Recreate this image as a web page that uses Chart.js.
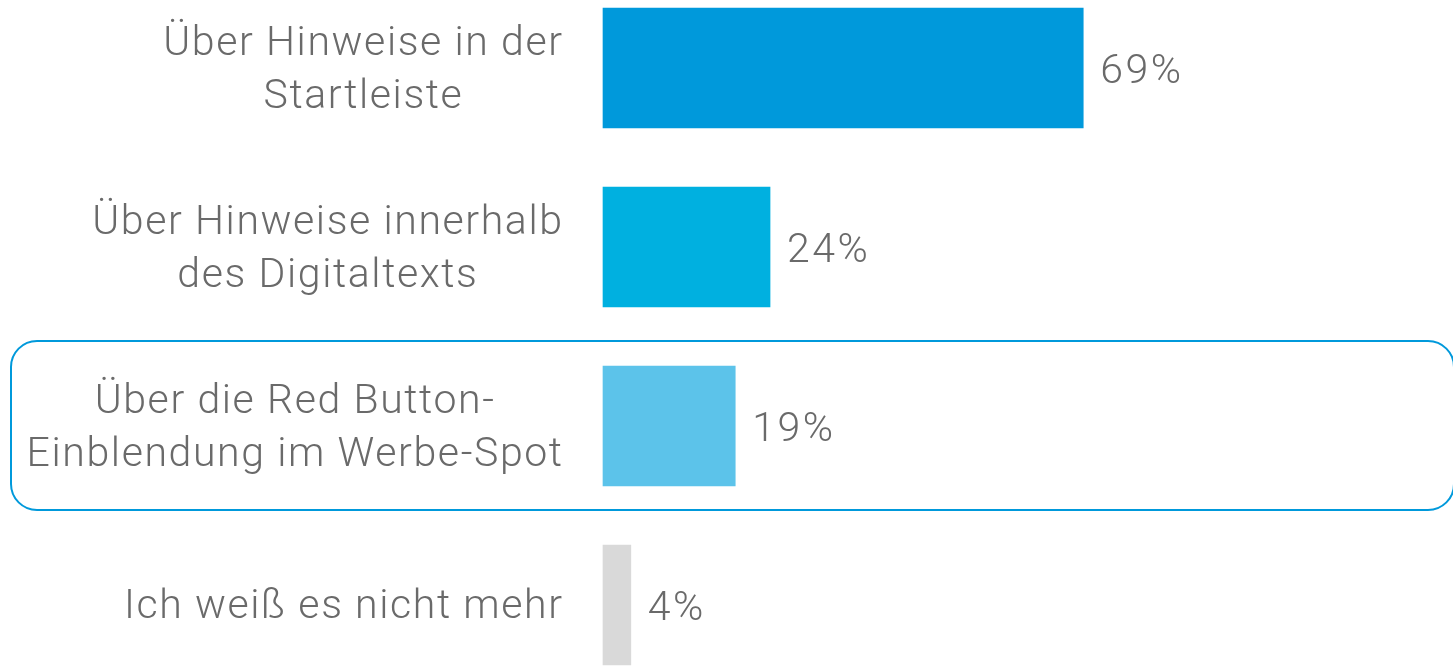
<!DOCTYPE html>
<html><head><meta charset="utf-8">
<script src="https://cdn.jsdelivr.net/npm/chart.js@4"></script>
<style>html,body{margin:0;padding:0;background:#fff;overflow:hidden}#wrap{width:1453px;height:669px;position:relative}</style>
</head><body><div id="wrap"><canvas id="c"></canvas></div>
<script>
const categories = [
  ["Über Hinweise in der", "Startleiste"],
  ["Über Hinweise innerhalb", "des Digitaltexts"],
  ["Über die Red Button-", "Einblendung im Werbe-Spot"],
  ["Ich weiß es nicht mehr"]
];
const values = [69, 24, 19, 4];
const valueLabels = ["69%", "24%", "19%", "4%"];
const barColors = ["#0099DB", "#00B0E0", "#5CC3EA", "#D9D9D9"];
const highlightIndex = 2;

const FONT = "300 41px Roboto, 'DejaVu Sans', sans-serif";
const TEXT = "#6a6a6a";

const labelPlugin = {
  id: "labels",
  beforeDatasetsDraw(chart) {
    const ctx = chart.ctx;
    const y = chart.scales.y;
    const cy = y.getPixelForValue(highlightIndex);
    ctx.save();
    ctx.strokeStyle = "#0099DB";
    ctx.lineWidth = 2;
    ctx.beginPath();
    ctx.roundRect(11, cy - 85, 1443, 169, 26);
    ctx.stroke();
    ctx.restore();
  },
  afterDatasetsDraw(chart) {
    const ctx = chart.ctx;
    const y = chart.scales.y;
    const meta = chart.getDatasetMeta(0);
    ctx.save();
    ctx.font = FONT;
    ctx.letterSpacing = "1.6px";
    ctx.fillStyle = TEXT;
    ctx.textBaseline = "middle";
    const lineH = 53;
    const rightEdge = chart.chartArea.left - 41;
    categories.forEach((lines, i) => {
      const cy = y.getPixelForValue(i) + 3;
      const widths = lines.map(l => ctx.measureText(l).width - 1.6);
      const widest = Math.max(...widths);
      lines.forEach((l, j) => {
        const ly = cy + (j - (lines.length - 1) / 2) * lineH;
        const lx = rightEdge - widest / 2 - widths[j] / 2;
        ctx.textAlign = "left";
        ctx.fillText(l, lx, ly);
      });
    });
    ctx.textAlign = "left";
    ctx.letterSpacing = "2.5px";
    meta.data.forEach((bar, i) => {
      ctx.fillText(valueLabels[i], bar.x + 17, bar.y + 5);
    });
    ctx.restore();
  }
};

new Chart(document.getElementById("c"), {
  type: "bar",
  data: {
    labels: categories,
    datasets: [{
      data: values,
      backgroundColor: barColors,
      barThickness: 120,
      clip: false,
      borderWidth: 0
    }]
  },
  options: {
    indexAxis: "y",
    responsive: true,
    maintainAspectRatio: false,
    animation: false,
    layout: { padding: { left: 603, right: 154, top: 68, bottom: 64 } },
    plugins: { legend: { display: false }, tooltip: { enabled: false } },
    scales: {
      x: { display: false, min: 0, max: 100 },
      y: { display: false, offset: false, grid: { display: false } }
    }
  },
  plugins: [labelPlugin]
});
</script>
</body></html>
